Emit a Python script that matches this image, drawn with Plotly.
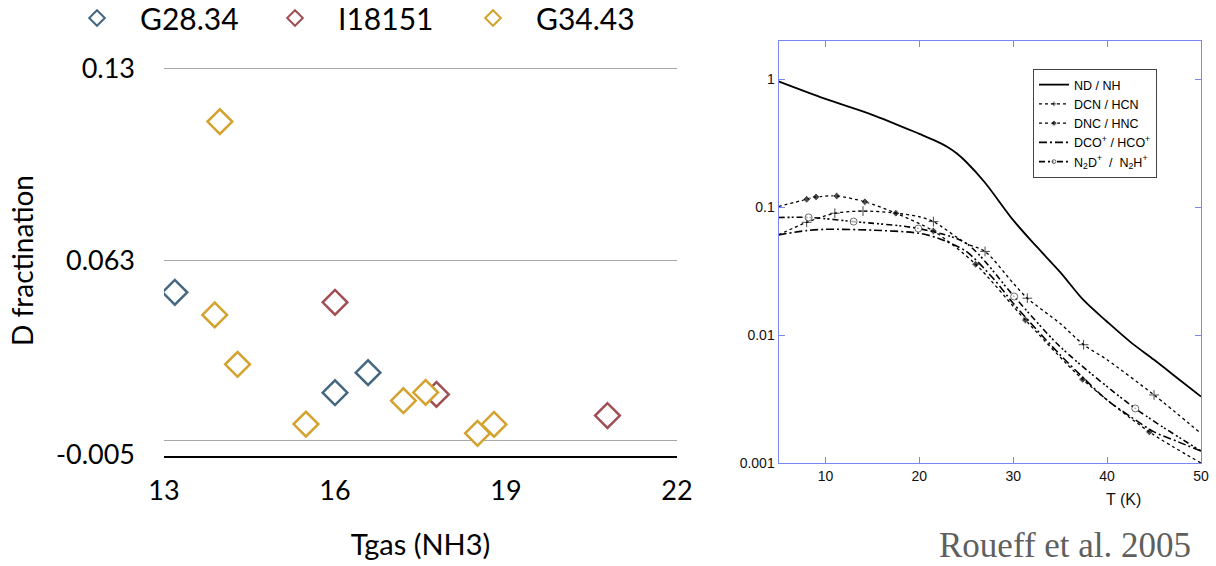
import plotly.graph_objects as go

# ---------------- Left chart data ----------------
g2834_t = [13.19, 16.0, 16.58]
g2834_d = [0.0519, 0.0168, 0.0238]
i18151_t = [16.0, 17.78, 20.78]
i18151_d = [0.0484, 0.0162, 0.0088]
g3443_t = [13.98, 13.89, 14.29, 15.49, 17.20, 17.59, 18.50, 18.79]
g3443_d = [0.1116, 0.0440, 0.0267, 0.0058, 0.0140, 0.0169, 0.0026, 0.0057]
left_yticks = [-0.005, 0.063, 0.13]
left_xticks = [13, 16, 19, 22]

# ---------------- Right chart data (Roueff et al. 2005) ----------------
nd_T = [5, 10, 15, 20, 21.5, 23, 24, 25, 27, 30, 32.5, 35, 37.5, 40, 42.5, 45, 47.5, 50]
nd_v = [0.96, 0.70, 0.526, 0.373, 0.335, 0.295, 0.262, 0.225, 0.155, 0.079, 0.049, 0.031,
        0.0187, 0.0127, 0.0088, 0.0064, 0.0046, 0.0033]
dcn_T = [5, 8, 11, 14, 17, 20, 21.5, 25, 27, 30, 31.5, 35, 37.5, 40, 45, 50]
dcn_v = [0.0606, 0.076, 0.0895, 0.093, 0.0906, 0.084, 0.077, 0.052, 0.045,
         0.0254, 0.0194, 0.0123, 0.0084, 0.0064, 0.0034, 0.0017]
dcn_mT = [8, 11, 14, 21.5, 27, 31.5, 37.5, 45]
dnc_T = [5, 8, 9, 11.2, 14.2, 17.5, 21.5, 26, 31.3, 37.4, 44.5, 50]
dnc_v = [0.101, 0.115, 0.12, 0.122, 0.110, 0.0895, 0.065, 0.0357, 0.0131,
         0.0045, 0.00175, 0.001]
dnc_mT = [8, 9, 11.2, 14.2, 17.5, 21.5, 26, 31.3, 37.4, 44.5]
dco_T = [5, 8, 10, 15, 20, 22, 25, 28, 30, 32.5, 35, 37.5, 40, 42.5, 45, 47.5, 50]
dco_v = [0.0606, 0.0655, 0.067, 0.066, 0.0624, 0.057, 0.045, 0.027, 0.0177,
         0.011, 0.007, 0.0046, 0.0031, 0.0023, 0.00175, 0.00147, 0.00124]
n2d_T = [5, 8.2, 13, 19.9, 25, 30.1, 35, 43, 50]
n2d_v = [0.0828, 0.083, 0.077, 0.068, 0.052, 0.020, 0.0081, 0.00267, 0.00124]
n2d_mT = [8.2, 13, 19.9, 30.1, 43]
right_yticks = [0.001, 0.01, 0.1, 1]
right_ytext = ["0.001", "0.01", "0.1", "1"]
right_xticks = [10, 20, 30, 40, 50]

BLUE = "#456882"
RED = "#a05055"
GOLD = "#d4a22e"
LFONT = "Lato"
RFONT = "Liberation Sans"
FRAME = "#7b86f5"
NB = "\u00a0"

fig = go.Figure()

for name, t, d, c in [("G28.34", g2834_t, g2834_d, BLUE),
                      ("I18151", i18151_t, i18151_d, RED),
                      ("G34.43", g3443_t, g3443_d, GOLD)]:
    fig.add_trace(go.Scatter(
        x=t, y=d, mode="markers", name=NB * 3 + name, legend="legend",
        marker=dict(symbol="diamond", size=19, color="white",
                    line=dict(color=c, width=2.5)),
        xaxis="x", yaxis="y"))


def sizes(T, mT, s):
    return [s if t in mT else 0 for t in T]


fig.add_trace(go.Scatter(x=nd_T, y=nd_v, mode="lines", name="ND / NH",
                         legend="legend2",
                         line=dict(color="black", width=1.8, shape="spline", smoothing=0.9),
                         xaxis="x2", yaxis="y2"))
fig.add_trace(go.Scatter(x=dcn_T, y=dcn_v, mode="lines+markers", name="DCN / HCN",
                         legend="legend2",
                         line=dict(color="black", width=1.3, dash="dot", shape="spline", smoothing=0.8),
                         marker=dict(symbol="cross-thin", size=sizes(dcn_T, dcn_mT, 7), color="black",
                                     line=dict(color="black", width=1)),
                         xaxis="x2", yaxis="y2"))
fig.add_trace(go.Scatter(x=dnc_T, y=dnc_v, mode="lines+markers", name="DNC / HNC",
                         legend="legend2",
                         line=dict(color="black", width=1.3, dash="dot", shape="spline", smoothing=0.8),
                         marker=dict(symbol="diamond", size=sizes(dnc_T, dnc_mT, 6), color="black"),
                         xaxis="x2", yaxis="y2"))
fig.add_trace(go.Scatter(x=dco_T, y=dco_v, mode="lines", name="DCO<sup>+</sup> / HCO<sup>+</sup>",
                         legend="legend2",
                         line=dict(color="black", width=1.6, dash="8px,3px,2px,3px", shape="spline", smoothing=0.8),
                         xaxis="x2", yaxis="y2"))
fig.add_trace(go.Scatter(x=n2d_T, y=n2d_v, mode="lines+markers",
                         name="N<sub>2</sub>D<sup>+</sup>  /  N<sub>2</sub>H<sup>+</sup>",
                         legend="legend2",
                         line=dict(color="black", width=1.6, dash="6px,3px,2px,2px,2px,3px", shape="spline", smoothing=0.8),
                         marker=dict(symbol="circle", size=sizes(n2d_T, n2d_mT, 7), color="white",
                                     line=dict(color="black", width=0.8)),
                         xaxis="x2", yaxis="y2"))

# left axis geometry: 0.13 at y=69, -0.005 at y=455
ylo, yhi = -0.0052, 0.1312
ppu = (455 - 69) / (0.13 + 0.005)
top_px = 69 - (yhi - 0.13) * ppu
bot_px = 455 + (-0.005 - ylo) * ppu

fig.update_layout(
    width=1216, height=566,
    margin=dict(l=0, r=0, t=0, b=0, autoexpand=False),
    paper_bgcolor="white", plot_bgcolor="white",
    showlegend=True,
    xaxis=dict(domain=[164/1216, 677/1216], range=[13, 22],
               tickvals=left_xticks, ticktext=[str(v) for v in left_xticks],
               showgrid=False, zeroline=False, showline=True, linecolor="black", linewidth=1.5,
               ticks="", ticklabelstandoff=10, automargin=False,
               tickfont=dict(family=LFONT, size=27, color="black"),
               title=dict(text="Tgas (NH3)", font=dict(family=LFONT, size=29, color="black"), standoff=30)),
    yaxis=dict(domain=[1 - bot_px/566, 1 - top_px/566], range=[ylo, yhi],
               tickvals=left_yticks, ticktext=["-0.005", "0.063", "0.13"],
               showgrid=True, gridcolor="#a8a8a8", gridwidth=1,
               zeroline=True, zerolinecolor="#a8a8a8", zerolinewidth=1,
               showline=False, ticks="", ticklabelstandoff=28, automargin=False,
               tickfont=dict(family=LFONT, size=27, color="black"),
               title=dict(text="D fractination", font=dict(family=LFONT, size=28, color="black"), standoff=14)),
    xaxis2=dict(domain=[778.5/1216, 1201/1216], range=[5, 50],
                tickvals=right_xticks, showgrid=False, zeroline=False,
                showline=True, linecolor=FRAME, linewidth=1, mirror="ticks",
                ticks="inside", ticklen=6, tickcolor=FRAME, automargin=False,
                tickfont=dict(family=RFONT, size=14, color="#111"),
                anchor="y2"),
    yaxis2=dict(domain=[1 - 463/566, 1 - 40.7/566], type="log", range=[-3, 0.3],
                tickvals=right_yticks, ticktext=right_ytext,
                showgrid=False, zeroline=False,
                showline=True, linecolor=FRAME, linewidth=1, mirror="ticks",
                ticks="inside", ticklen=6, tickcolor=FRAME, automargin=False,
                tickfont=dict(family=RFONT, size=14, color="#111"),
                anchor="x2"),
    legend=dict(orientation="h", x=77/1216, y=1 + 8/566, xanchor="left", yanchor="top",
                font=dict(family=LFONT, size=30, color="black"),
                entrywidth=153, entrywidthmode="pixels", itemsizing="constant",
                bgcolor="rgba(0,0,0,0)"),
    legend2=dict(x=1033/1216, y=1 - 69/566, xanchor="left", yanchor="top",
                 font=dict(family=RFONT, size=12.5, color="black"),
                 bordercolor="#444", borderwidth=1, bgcolor="white",
                 itemwidth=30, itemsizing="trace"),
)

fig.add_annotation(text="T (K)", xref="paper", yref="paper",
                   x=1123/1216, y=1 - 499/566, xanchor="center", yanchor="middle",
                   showarrow=False,
                   font=dict(family=RFONT, size=16, color="#111"))
fig.add_annotation(text="Roueff et al. 2005", xref="paper", yref="paper",
                   x=1065/1216, y=1 - 545/566, xanchor="center", yanchor="middle",
                   showarrow=False, borderpad=0,
                   font=dict(family="Liberation Serif", size=35, color="#5f5f5f"))

fig.write_html("out.html", config={"displayModeBar": False},
               post_script="document.body.style.margin='0px';")
